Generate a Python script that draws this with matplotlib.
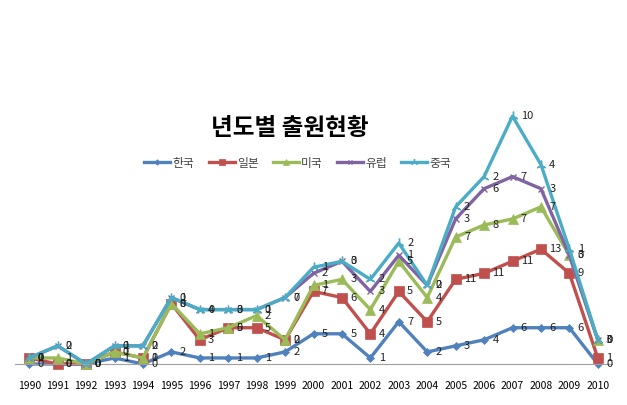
import numpy as np
import matplotlib
matplotlib.use('Agg')
import matplotlib.pyplot as plt

plt.rcParams['font.family'] = ['Noto Sans CJK KR', 'DejaVu Sans']

# Data (yearly filings per country, stacked line chart)
years = [str(y) for y in range(1990, 2011)]
korea  = [0, 0, 0, 1, 0, 2, 1, 1, 1, 2, 5, 5, 1, 7, 2, 3, 4, 6, 6, 6, 0]
japan  = [1, 0, 0, 1, 1, 8, 3, 5, 5, 2, 7, 6, 4, 5, 5, 11, 11, 11, 13, 9, 1]
usa    = [0, 1, 0, 0, 0, 0, 1, 0, 2, 0, 1, 3, 4, 5, 4, 7, 8, 7, 7, 3, 3]
europe = [0, 2, 0, 1, 2, 1, 4, 3, 1, 7, 2, 3, 3, 1, 2, 3, 6, 7, 3, 0, 0]
china  = [0, 0, 0, 0, 0, 0, 0, 0, 0, 0, 1, 0, 2, 2, 0, 2, 2, 10, 4, 1, 0]

names = ['한국', '일본', '미국', '유럽', '중국']
series = [korea, japan, usa, europe, china]
colors = ['#4F81BD', '#C0504D', '#9BBB59', '#8064A2', '#4BACC6']
markers = ['D', 's', '^', 'x', (3, 2, 0)]
msizes = [4, 7, 7, 5, 7]

fig = plt.figure(figsize=(6.27, 4.05), dpi=100)
ax = fig.add_axes([15 / 627, 1 - 364 / 405, 597 / 627, 272 / 405])

x = np.arange(len(years))
cum = np.zeros(len(years))
for name, vals, c, m, ms in zip(names, series, colors, markers, msizes):
    cum = cum + np.array(vals)
    thin = m in ('x', (3, 2, 0))
    ax.plot(x, cum, color=c, lw=2.4, marker=m, markersize=ms,
            markeredgewidth=1.0 if thin else 0.5,
            markeredgecolor=c, label=name, clip_on=False)
    for xi, yi, v in zip(x, cum, vals):
        ax.annotate(str(v), (xi, yi), xytext=(6, 0), textcoords='offset points',
                    ha='left', va='center', fontsize=8, color='#222222')

ax.set_xlim(-0.5, len(years) - 0.5)
ax.set_ylim(0, 45)
ax.set_xticks(x)
ax.set_xticklabels(years, fontsize=7.5)
ax.tick_params(axis='x', length=0, pad=12)
ax.set_yticks([])
for s in ['top', 'right', 'left']:
    ax.spines[s].set_visible(False)
ax.spines['bottom'].set_color('#A0A0A0')

fig.text(290 / 627, 1 - 128 / 405, '년도별 출원현황', ha='center', va='center',
         fontsize=17, fontweight='bold')
leg = fig.legend(loc='center', bbox_to_anchor=(298 / 627, 1 - 163 / 405), ncol=5,
                 frameon=False, fontsize=8.5, handlelength=2.2, columnspacing=1.2,
                 handletextpad=0.2, markerscale=0.7)
for t in leg.get_texts():
    t.set_color('#444444')

fig.savefig('out.png', dpi=100)
